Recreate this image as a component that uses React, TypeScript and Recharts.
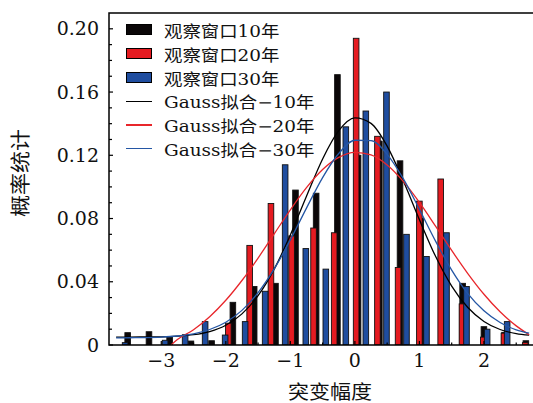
import React from "react";
import { ComposedChart, Bar, Line, XAxis, YAxis } from "recharts";

// histogram bins (bin centre, probability) for each observation window
const win10X = [-3.52, -3.19, -2.87, -2.54, -2.22, -1.89, -1.56, -1.23, -0.92, -0.6, -0.27, 0.05, 0.38, 0.7, 1.02, 1.35, 1.67, 2.0, 2.32, 2.65];
const win10P = [0.0078, 0.0084, 0.005, 0.0025, 0.0027, 0.027, 0.037, 0.039, 0.098, 0.096, 0.171, 0.12, 0.129, 0.1165, 0.08, 0.06, 0.039, 0.0116, 0.008, 0.0027];

const win20X = [-1.96, -1.63, -1.3, -0.98, -0.64, -0.32, 0.02, 0.35, 0.67, 1.0, 1.33, 1.66, 1.99, 2.31, 2.64];
const win20P = [0.0138, 0.063, 0.0895, 0.069, 0.074, 0.071, 0.194, 0.132, 0.049, 0.091, 0.105, 0.026, 0.005, 0.0075, 0.0015];

const win30X = [-3.56, -2.94, -2.63, -2.32, -2.01, -1.7, -1.39, -1.08, -0.76, -0.45, -0.14, 0.17, 0.49, 0.8, 1.11, 1.42, 1.73, 2.05, 2.36];
const win30P = [0.0015, 0.003, 0.0065, 0.0148, 0.0063, 0.0148, 0.034, 0.114, 0.061, 0.048, 0.138, 0.148, 0.16, 0.07, 0.056, 0.071, 0.037, 0.01, 0.0148];

// Gauss fit curves, sampled along x
const fitX = [-3.7, -3.5, -3.25, -3.0, -2.75, -2.5, -2.25, -2.0, -1.75, -1.5, -1.25, -1.0, -0.75, -0.5, -0.25, 0, 0.25, 0.5, 0.75, 1.0, 1.25, 1.5, 1.75, 2.0, 2.25, 2.5, 2.7];
const fit10 = [0.005, 0.005, 0.0051, 0.0052, 0.0056, 0.0065, 0.0085, 0.0125, 0.0197, 0.0312, 0.048, 0.0696, 0.0941, 0.1177, 0.1356, 0.1437, 0.1402, 0.1258, 0.1039, 0.0793, 0.0561, 0.0373, 0.0237, 0.0149, 0.0098, 0.0072, 0.0062];
const fit30 = [0.0045, 0.0046, 0.0047, 0.005, 0.0057, 0.0071, 0.0098, 0.0144, 0.0219, 0.0331, 0.0481, 0.0665, 0.0866, 0.1059, 0.1211, 0.1295, 0.1293, 0.1206, 0.1052, 0.0858, 0.0657, 0.0474, 0.0325, 0.0216, 0.0142, 0.0096, 0.0075];
const fit20X = [-2.85, -2.75, -2.5, -2.25, -2.0, -1.75, -1.5, -1.25, -1.0, -0.75, -0.5, -0.25, 0, 0.25, 0.5, 0.75, 1.0, 1.25, 1.5, 1.75, 2.0, 2.25, 2.5, 2.7];
const fit20 = [0, 0.0035, 0.0097, 0.0179, 0.0283, 0.0408, 0.055, 0.0703, 0.0855, 0.0995, 0.111, 0.1187, 0.1219, 0.1203, 0.1139, 0.1035, 0.0902, 0.0752, 0.0598, 0.0452, 0.0321, 0.021, 0.0121, 0.0065];

const xDomain = [-3.81, 2.76];
const yDomain = [0, 0.21];
const xTicks = [-3.5, -3, -2.5, -2, -1.5, -1, -0.5, 0, 0.5, 1, 1.5, 2, 2.5];
const xMajor = [-3, -2, -1, 0, 1, 2];
const yTicks = [0, 0.01, 0.02, 0.03, 0.04, 0.05, 0.06, 0.07, 0.08, 0.09, 0.1, 0.11, 0.12, 0.13, 0.14, 0.15, 0.16, 0.17, 0.18, 0.19, 0.2];
const yMajor = [0, 0.04, 0.08, 0.12, 0.16, 0.2];
const yLabels = ["0", "0.04", "0.08", "0.12", "0.16", "0.20"];

const BLACK = "#0b0708";
const RED = "#e51b21";
const BLUE = "#1f4d9f";

const legendItems = [
  { name: "观察窗口10年", kind: "rect", color: BLACK },
  { name: "观察窗口20年", kind: "rect", color: RED },
  { name: "观察窗口30年", kind: "rect", color: BLUE },
  { name: "Gauss拟合−10年", kind: "line", color: "#000" },
  { name: "Gauss拟合−20年", kind: "line", color: "#e8262b" },
  { name: "Gauss拟合−30年", kind: "line", color: "#2456a4" },
];

const rows: Record<string, number>[] = [
  ...win10X.map((x, i) => ({ x, w10: win10P[i] })),
  ...win20X.map((x, i) => ({ x, w20: win20P[i] })),
  ...win30X.map((x, i) => ({ x, w30: win30P[i] })),
  ...fitX.map((x, i) => ({ x, g10: fit10[i], g30: fit30[i] })),
  ...fit20X.map((x, i) => ({ x, g20: fit20[i] })),
].sort((a, b) => a.x - b.x);

const W = 533;
const H = 403;
const PLOT_LEFT = 109;
const PLOT_TOP = 13;
const PLOT_BOTTOM = 345;
const BAR_W = 5.6;
const SERIF = "'DejaVu Serif', 'Noto Sans CJK SC', serif";
const CJK = "'Noto Sans CJK SC', sans-serif";

// fixed-width bar centred on its bin
function BinBar(props: any) {
  const { x, y, width, height, fill } = props;
  if (!(height > 0)) return null;
  const cx = x + width / 2;
  return (
    <rect
      x={cx - BAR_W / 2}
      y={y}
      width={BAR_W}
      height={height}
      fill={fill}
      stroke="#111"
      strokeWidth={0.9}
    />
  );
}

function XTick(props: any) {
  const { x, payload } = props;
  const v = payload.value;
  const major = xMajor.includes(v);
  const len = major ? 4 : 2.5;
  return (
    <g>
      <rect x={x - 0.6} y={PLOT_BOTTOM - len} width={1.2} height={len} fill="#000" />
      {major && (
        <text x={x} y={367} textAnchor="middle" fontFamily={SERIF} fontSize={19} fill="#111">
          {v < 0 ? "−" + Math.abs(v) : String(v)}
        </text>
      )}
    </g>
  );
}

function YTick(props: any) {
  const { y, payload } = props;
  const i = yMajor.indexOf(payload.value);
  return (
    <g>
      <rect x={PLOT_LEFT} y={y - 0.6} width={i >= 0 ? 4 : 3} height={1.2} fill="#000" />
      {i >= 0 && (
        <text x={PLOT_LEFT - 10} y={y + 6.5} textAnchor="end" fontFamily={SERIF} fontSize={19} fill="#111">
          {yLabels[i]}
        </text>
      )}
    </g>
  );
}

function LegendBox() {
  return (
    <div
      style={{
        position: "absolute",
        left: 126,
        top: 18,
        fontFamily: SERIF,
        fontSize: 16,
        color: "#111",
        pointerEvents: "none",
      }}
    >
      {legendItems.map((item) => (
        <div key={item.name} style={{ display: "flex", alignItems: "center", height: 23.8 }}>
          {item.kind === "rect" ? (
            <span
              style={{
                width: 26,
                height: 11,
                background: item.color,
                border: "1px solid #000",
                boxSizing: "border-box",
              }}
            />
          ) : (
            <span style={{ width: 26, height: 1.2, background: item.color }} />
          )}
          <span
            style={{
              marginLeft: 12,
              display: "inline-block",
              whiteSpace: "nowrap",
              transform: "scaleX(1.15)",
              transformOrigin: "left center",
            }}
          >
            {item.name}
          </span>
        </div>
      ))}
    </div>
  );
}

// plot box outline (left, top, bottom) laid over the chart
function FrameOverlay() {
  return (
    <svg
      width={W}
      height={H}
      style={{ position: "absolute", left: 0, top: 0, pointerEvents: "none" }}
    >
      <polyline
        points={`${W + 2},${PLOT_TOP} ${PLOT_LEFT},${PLOT_TOP} ${PLOT_LEFT},${PLOT_BOTTOM} ${W + 2},${PLOT_BOTTOM}`}
        fill="none"
        stroke="#000"
        strokeWidth={1.5}
      />
    </svg>
  );
}

export default function App() {
  return (
    <div style={{ position: "absolute", left: 0, top: 0, width: W, height: H, background: "#fff", overflow: "hidden" }}>
      <ComposedChart width={W} height={H} data={rows} margin={{ top: PLOT_TOP, right: 0, bottom: 0, left: 0 }}>
        <XAxis
          type="number"
          dataKey="x"
          domain={xDomain}
          allowDataOverflow
          ticks={xTicks}
          interval={0}
          height={H - PLOT_BOTTOM}
          tickLine={false}
          tick={<XTick />}
          axisLine={false}
          label={{
            content: () => (
              <text x={330} y={399} textAnchor="middle" fontFamily={CJK} fontSize={19} fill="#111" textLength={84} lengthAdjust="spacingAndGlyphs">
                突变幅度
              </text>
            ),
          }}
        />
        <YAxis
          type="number"
          domain={yDomain}
          allowDataOverflow
          ticks={yTicks}
          interval={0}
          width={PLOT_LEFT}
          tickLine={false}
          tick={<YTick />}
          axisLine={false}
          label={{
            content: () => (
              <text
                x={28}
                y={173}
                transform="rotate(-90 28 173)"
                textAnchor="middle"
                fontFamily={CJK}
                fontSize={20}
                fill="#111"
                textLength={88}
                lengthAdjust="spacingAndGlyphs"
              >
                概率统计
              </text>
            ),
          }}
        />
        <Bar dataKey="w10" stackId="h" fill={BLACK} barSize={6} shape={<BinBar />} isAnimationActive={false} />
        <Bar dataKey="w20" stackId="h" fill={RED} barSize={6} shape={<BinBar />} isAnimationActive={false} />
        <Bar dataKey="w30" stackId="h" fill={BLUE} barSize={6} shape={<BinBar />} isAnimationActive={false} />
        <Line dataKey="g10" type="monotone" stroke="#000" strokeWidth={1.3} dot={false} connectNulls isAnimationActive={false} />
        <Line dataKey="g20" type="monotone" stroke="#e8262b" strokeWidth={1.3} dot={false} connectNulls isAnimationActive={false} />
        <Line dataKey="g30" type="monotone" stroke="#2456a4" strokeWidth={1.3} dot={false} connectNulls isAnimationActive={false} />
      </ComposedChart>
      <FrameOverlay />
      <LegendBox />
    </div>
  );
}
